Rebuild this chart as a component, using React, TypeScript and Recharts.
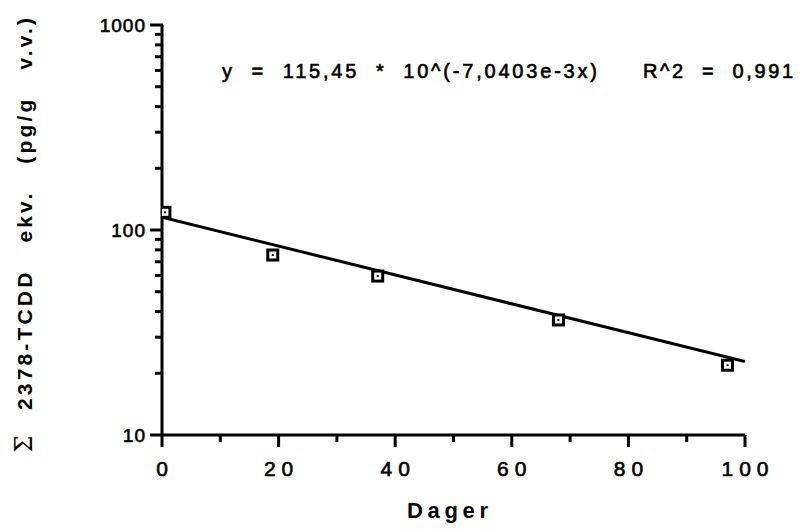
import { ComposedChart, Line, Scatter, XAxis, YAxis } from "recharts";

// measured points (days, pg/g v.v.)
const days = [0.5, 19, 37, 68, 97];
const tcdd = [122, 75.5, 59.6, 36.4, 21.9];

// fitted line y = 115,45 * 10^(-7,0403e-3x), endpoints
const fitDays = [0, 100];
const fitVals = [115.45, 22.83];

const xTicks = [0, 10, 20, 30, 40, 50, 60, 70, 80, 90, 100];
const yTicks = [10, 20, 30, 40, 50, 60, 70, 80, 90, 100, 200, 300, 400, 500, 600, 700, 800, 900, 1000];
const yMajor = [10, 100, 1000];

const points = days.map((d, i) => ({ x: d, y: tcdd[i] }));
const fit = fitDays.map((d, i) => ({ x: d, y: fitVals[i] }));

const sans = "'Liberation Sans', Arial, Helvetica, sans-serif";

function XTick(props: any) {
  const { x, y, payload } = props;
  const major = payload.value % 20 === 0;
  return (
    <g>
      <line x1={x} x2={x} y1={y} y2={y + (major ? 12 : 7)} stroke="#000" strokeWidth={3} />
      {major && (
        <text x={x + 3} y={y + 41} textAnchor="middle" fontFamily={sans} fontSize={21} letterSpacing={6} fill="#000" stroke="#000" strokeWidth={0.6}>
          {payload.value}
        </text>
      )}
    </g>
  );
}

function YTick(props: any) {
  const { x, y, payload } = props;
  const major = yMajor.includes(payload.value);
  return (
    <g>
      <line x1={x + 1} x2={x - (major ? 12 : 7)} y1={y} y2={y} stroke="#000" strokeWidth={3} />
      {major && (
        <text x={x - 16} y={y + 7} textAnchor="end" fontFamily={sans} fontSize={19} letterSpacing={1} fill="#000" stroke="#000" strokeWidth={0.6}>
          {payload.value}
        </text>
      )}
    </g>
  );
}

function Box(props: any) {
  const { cx, cy } = props;
  return (
    <g>
      <rect x={cx - 5} y={cy - 5} width={10} height={10} fill="#fff" stroke="#000" strokeWidth={3} />
      <rect x={cx - 1} y={cy - 1} width={2} height={2} fill="#000" />
    </g>
  );
}

export default function App() {
  return (
    <div style={{ position: "absolute", left: 0, top: 0, width: 800, height: 529, background: "#fff" }}>
      <ComposedChart width={800} height={529} margin={{ top: 25, right: 55, bottom: 0, left: 0 }}>
        <XAxis
          type="number"
          dataKey="x"
          domain={[0, 100]}
          ticks={xTicks}
          interval={0}
          height={94}
          tickSize={0}
          tickMargin={0}
          tickLine={false}
          axisLine={{ stroke: "#000", strokeWidth: 3 }}
          tick={<XTick />}
          allowDataOverflow
        />
        <YAxis
          type="number"
          dataKey="y"
          scale="log"
          domain={[10, 1000]}
          ticks={yTicks}
          interval={0}
          width={162}
          tickSize={0}
          tickMargin={0}
          tickLine={false}
          axisLine={{ stroke: "#000", strokeWidth: 3 }}
          tick={<YTick />}
          allowDataOverflow
        />
        <Line data={fit} dataKey="y" type="linear" stroke="#000" strokeWidth={3} dot={false} isAnimationActive={false} />
        <Scatter data={points} dataKey="y" shape={<Box />} isAnimationActive={false} />
      </ComposedChart>
      <svg width={800} height={529} style={{ position: "absolute", left: 0, top: 0, pointerEvents: "none" }}>
        <text x={222} y={78} fontFamily={sans} fontSize={20} textLength={375} lengthAdjust="spacing" fill="#000" stroke="#000" strokeWidth={0.6} style={{ whiteSpace: "pre" }}>
          {"y  =  115,45  *  10^(-7,0403e-3x)"}
        </text>
        <text x={643} y={78} fontFamily={sans} fontSize={20} textLength={150} lengthAdjust="spacing" fill="#000" stroke="#000" strokeWidth={0.6} style={{ whiteSpace: "pre" }}>
          {"R^2  =  0,991"}
        </text>
        <text x={407} y={518} fontFamily={sans} fontSize={22} fontWeight="bold" textLength={81} lengthAdjust="spacing" fill="#000">
          Dager
        </text>
        <text
          x={24}
          y={214}
          transform="rotate(-90, 24, 214)"
          textAnchor="middle"
          dominantBaseline="central"
          fontFamily={sans}
          fontSize={21}
          fontWeight="bold"
          textLength={392}
          lengthAdjust="spacing"
          style={{ whiteSpace: "pre" }}
          fill="#000"
        >
          {"2378-TCDD   ekv.   (pg/g   v.v.)"}
        </text>
        <text
          x={24}
          y={444}
          transform="rotate(-90, 24, 444)"
          textAnchor="middle"
          dominantBaseline="central"
          fontFamily="'DejaVu Serif', 'Liberation Serif', serif"
          fontSize={24}
          fill="#000"
        >
          Σ
        </text>
      </svg>
    </div>
  );
}
